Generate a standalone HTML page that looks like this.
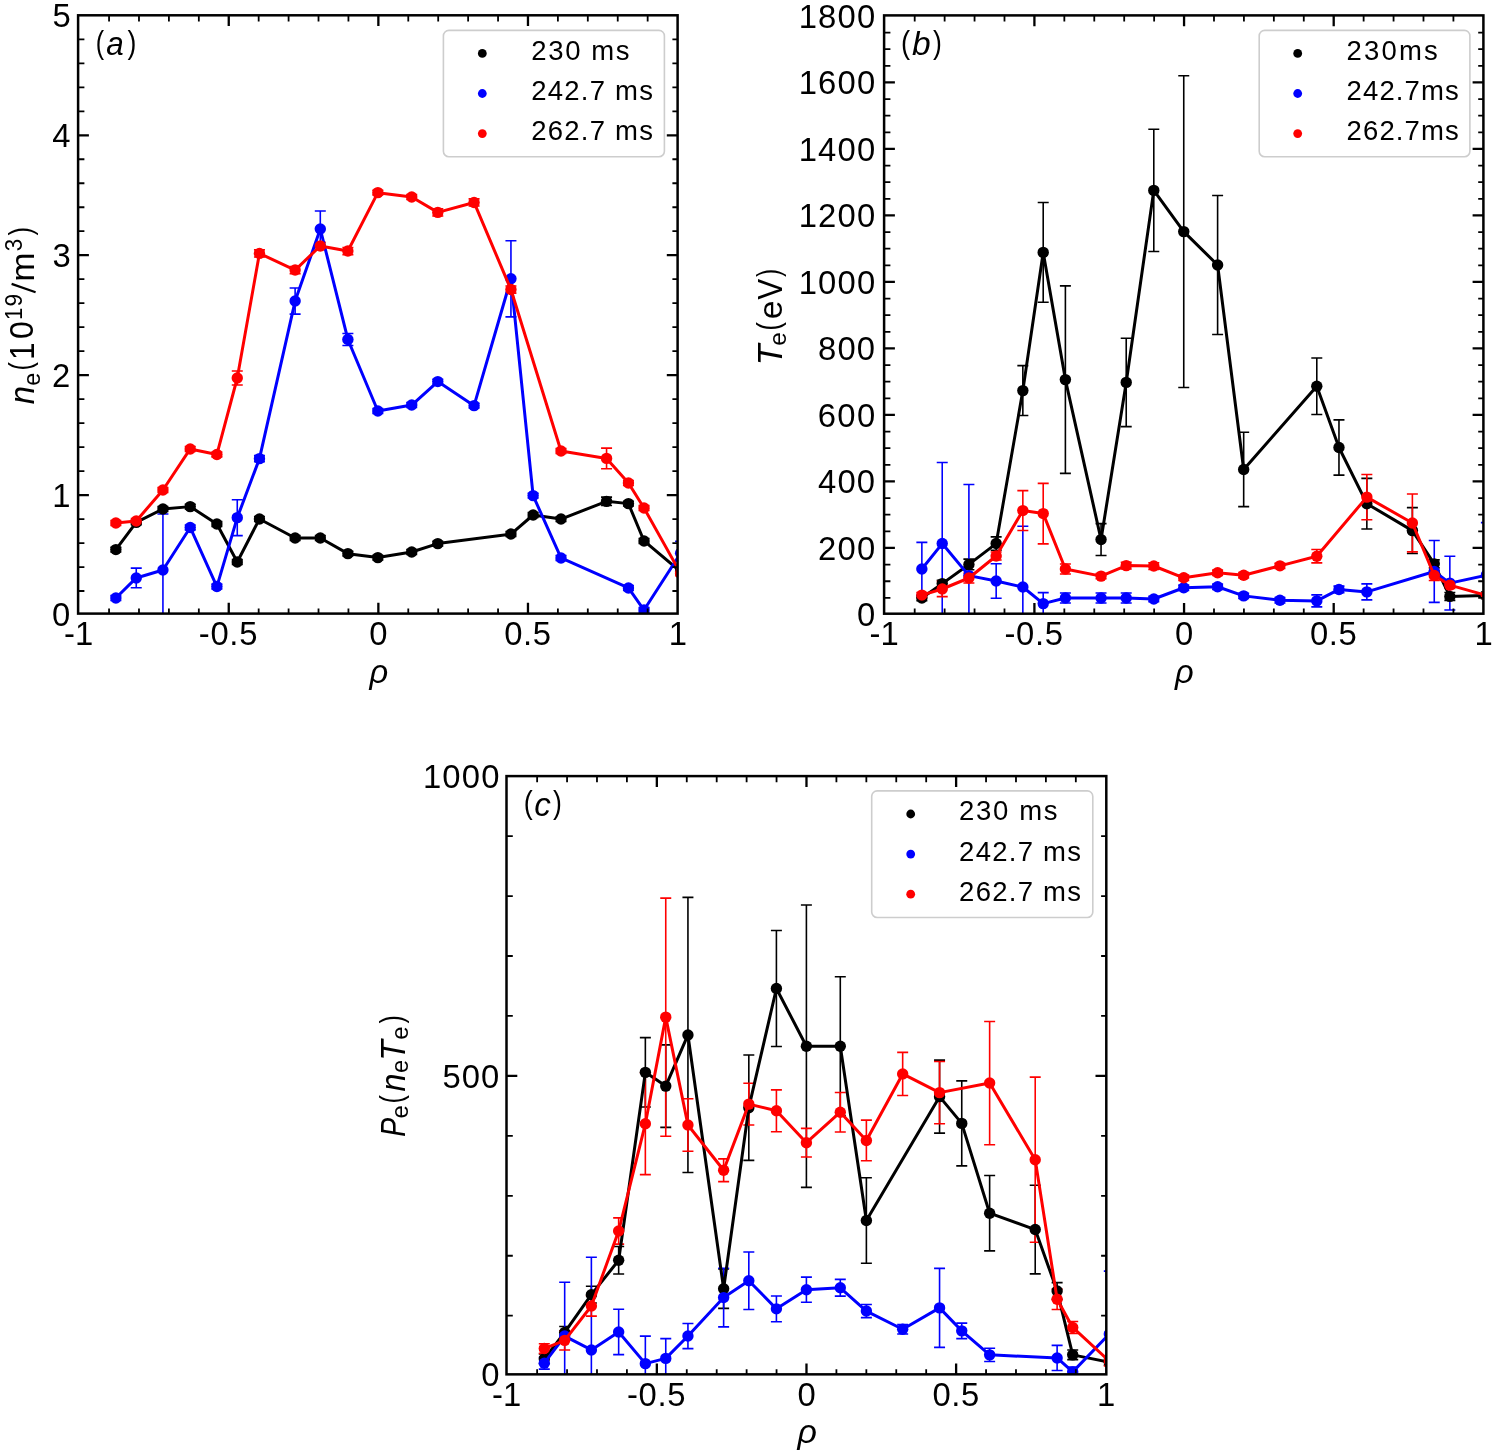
<!DOCTYPE html><html><head><meta charset="utf-8"><style>html,body{margin:0;padding:0;background:#fff;}svg{display:block;will-change:transform;}text{font-family:"Liberation Sans", sans-serif;}</style></head><body>
<svg width="1495" height="1456" viewBox="0 0 1495 1456">
<rect width="1495" height="1456" fill="#fff"/>
<clipPath id="clipa"><rect x="78.1" y="15.3" width="599.5" height="598.3"/></clipPath>
<g clip-path="url(#clipa)">
<path d="M115.87 551.98V547.19M136.25 524.81V520.03M162.93 511.41V506.62M190.21 509.02V504.23M216.88 526.37V521.58M237.27 564.42V559.63M259.45 521.34V516.56M295.12 540.37V535.58M320.3 540.37V535.58M347.88 556.04V551.26M377.85 559.99V555.21M411.72 554.37V549.58M437.8 545.99V541.21M510.94 536.42V531.63M533.12 517.39V512.61M561 521.46V516.68M606.56 505.55V497.17M628.44 506.03V501.24M644.03 543.36V538.57M680.6 574.11V569.33" stroke="#000000" stroke-width="1.6" fill="none"/>
<path d="M110.37 551.98H121.37M110.37 547.19H121.37M130.75 524.81H141.75M130.75 520.03H141.75M157.43 511.41H168.43M157.43 506.62H168.43M184.71 509.02H195.71M184.71 504.23H195.71M211.38 526.37H222.38M211.38 521.58H222.38M231.77 564.42H242.77M231.77 559.63H242.77M253.95 521.34H264.95M253.95 516.56H264.95M289.62 540.37H300.62M289.62 535.58H300.62M314.8 540.37H325.8M314.8 535.58H325.8M342.38 556.04H353.38M342.38 551.26H353.38M372.35 559.99H383.35M372.35 555.21H383.35M406.22 554.37H417.22M406.22 549.58H417.22M432.3 545.99H443.3M432.3 541.21H443.3M505.44 536.42H516.44M505.44 531.63H516.44M527.62 517.39H538.62M527.62 512.61H538.62M555.5 521.46H566.5M555.5 516.68H566.5M601.06 505.55H612.06M601.06 497.17H612.06M622.94 506.03H633.94M622.94 501.24H633.94M638.53 543.36H649.53M638.53 538.57H649.53M675.1 574.11H686.1M675.1 569.33H686.1" stroke="#000000" stroke-width="1.6" fill="none"/>
<path d="M115.87 600.44V595.65M136.25 587.75V568.13M162.93 626.04V514.04M190.21 529.84V525.05M216.88 588.95V584.16M237.27 535.58V499.68M259.45 461.63V455.65M295.12 314.09V288.01M320.3 246.96V211.06M347.88 345.44V333.48M377.85 413.41V408.62M411.72 407.43V402.64M437.8 383.97V379.19M474.07 408.02V403.24M510.94 316.84V240.74M533.12 498.01V493.22M561 560.35V555.56M628.44 590.39V585.6M644.03 612.4V607.62M680.6 565.14V541.21" stroke="#0000ff" stroke-width="1.6" fill="none"/>
<path d="M110.37 600.44H121.37M110.37 595.65H121.37M130.75 587.75H141.75M130.75 568.13H141.75M157.43 626.04H168.43M157.43 514.04H168.43M184.71 529.84H195.71M184.71 525.05H195.71M211.38 588.95H222.38M211.38 584.16H222.38M231.77 535.58H242.77M231.77 499.68H242.77M253.95 461.63H264.95M253.95 455.65H264.95M289.62 314.09H300.62M289.62 288.01H300.62M314.8 246.96H325.8M314.8 211.06H325.8M342.38 345.44H353.38M342.38 333.48H353.38M372.35 413.41H383.35M372.35 408.62H383.35M406.22 407.43H417.22M406.22 402.64H417.22M432.3 383.97H443.3M432.3 379.19H443.3M468.57 408.02H479.57M468.57 403.24H479.57M505.44 316.84H516.44M505.44 240.74H516.44M527.62 498.01H538.62M527.62 493.22H538.62M555.5 560.35H566.5M555.5 555.56H566.5M622.94 590.39H633.94M622.94 585.6H633.94M638.53 612.4H649.53M638.53 607.62H649.53M675.1 565.14H686.1M675.1 541.21H686.1" stroke="#0000ff" stroke-width="1.6" fill="none"/>
<path d="M115.87 525.41V520.62M136.25 523.38V518.59M162.93 492.38V487.6M190.21 451.34V446.55M216.88 456.85V452.06M237.27 384.93V371.05M259.45 257.01V249.83M295.12 273.65V266.47M320.3 249.59V242.41M347.88 254.62V247.44M377.85 195.03V190.24M411.72 199.46V194.67M437.8 215.97V208.79M474.07 206.04V198.86M510.94 293.15V285.97M561 453.38V448.59M606.56 468.69V448.11M628.44 485.44V480.66M644.03 510.45V505.67M680.6 575.79V571" stroke="#ff0000" stroke-width="1.6" fill="none"/>
<path d="M110.37 525.41H121.37M110.37 520.62H121.37M130.75 523.38H141.75M130.75 518.59H141.75M157.43 492.38H168.43M157.43 487.6H168.43M184.71 451.34H195.71M184.71 446.55H195.71M211.38 456.85H222.38M211.38 452.06H222.38M231.77 384.93H242.77M231.77 371.05H242.77M253.95 257.01H264.95M253.95 249.83H264.95M289.62 273.65H300.62M289.62 266.47H300.62M314.8 249.59H325.8M314.8 242.41H325.8M342.38 254.62H353.38M342.38 247.44H353.38M372.35 195.03H383.35M372.35 190.24H383.35M406.22 199.46H417.22M406.22 194.67H417.22M432.3 215.97H443.3M432.3 208.79H443.3M468.57 206.04H479.57M468.57 198.86H479.57M505.44 293.15H516.44M505.44 285.97H516.44M555.5 453.38H566.5M555.5 448.59H566.5M601.06 468.69H612.06M601.06 448.11H612.06M622.94 485.44H633.94M622.94 480.66H633.94M638.53 510.45H649.53M638.53 505.67H649.53M675.1 575.79H686.1M675.1 571H686.1" stroke="#ff0000" stroke-width="1.6" fill="none"/>
<polyline points="115.87,549.58 136.25,522.42 162.93,509.02 190.21,506.62 216.88,523.97 237.27,562.03 259.45,518.95 295.12,537.97 320.3,537.97 347.88,553.65 377.85,557.6 411.72,551.98 437.8,543.6 510.94,534.03 533.12,515 561,519.07 606.56,501.36 628.44,503.63 644.03,540.97 680.6,571.72" stroke="#000000" stroke-width="3.0" fill="none" stroke-linejoin="round" stroke-linecap="round"/>
<g fill="#000000"><circle cx="115.87" cy="549.58" r="5.7"/><circle cx="136.25" cy="522.42" r="5.7"/><circle cx="162.93" cy="509.02" r="5.7"/><circle cx="190.21" cy="506.62" r="5.7"/><circle cx="216.88" cy="523.97" r="5.7"/><circle cx="237.27" cy="562.03" r="5.7"/><circle cx="259.45" cy="518.95" r="5.7"/><circle cx="295.12" cy="537.97" r="5.7"/><circle cx="320.3" cy="537.97" r="5.7"/><circle cx="347.88" cy="553.65" r="5.7"/><circle cx="377.85" cy="557.6" r="5.7"/><circle cx="411.72" cy="551.98" r="5.7"/><circle cx="437.8" cy="543.6" r="5.7"/><circle cx="510.94" cy="534.03" r="5.7"/><circle cx="533.12" cy="515" r="5.7"/><circle cx="561" cy="519.07" r="5.7"/><circle cx="606.56" cy="501.36" r="5.7"/><circle cx="628.44" cy="503.63" r="5.7"/><circle cx="644.03" cy="540.97" r="5.7"/><circle cx="680.6" cy="571.72" r="5.7"/></g>
<polyline points="115.87,598.04 136.25,577.94 162.93,570.04 190.21,527.44 216.88,586.56 237.27,517.63 259.45,458.64 295.12,301.05 320.3,229.01 347.88,339.46 377.85,411.02 411.72,405.03 437.8,381.58 474.07,405.63 510.94,278.79 533.12,495.62 561,557.96 628.44,587.99 644.03,610.01 680.6,553.17" stroke="#0000ff" stroke-width="3.0" fill="none" stroke-linejoin="round" stroke-linecap="round"/>
<g fill="#0000ff"><circle cx="115.87" cy="598.04" r="5.7"/><circle cx="136.25" cy="577.94" r="5.7"/><circle cx="162.93" cy="570.04" r="5.7"/><circle cx="190.21" cy="527.44" r="5.7"/><circle cx="216.88" cy="586.56" r="5.7"/><circle cx="237.27" cy="517.63" r="5.7"/><circle cx="259.45" cy="458.64" r="5.7"/><circle cx="295.12" cy="301.05" r="5.7"/><circle cx="320.3" cy="229.01" r="5.7"/><circle cx="347.88" cy="339.46" r="5.7"/><circle cx="377.85" cy="411.02" r="5.7"/><circle cx="411.72" cy="405.03" r="5.7"/><circle cx="437.8" cy="381.58" r="5.7"/><circle cx="474.07" cy="405.63" r="5.7"/><circle cx="510.94" cy="278.79" r="5.7"/><circle cx="533.12" cy="495.62" r="5.7"/><circle cx="561" cy="557.96" r="5.7"/><circle cx="628.44" cy="587.99" r="5.7"/><circle cx="644.03" cy="610.01" r="5.7"/><circle cx="680.6" cy="553.17" r="5.7"/></g>
<polyline points="115.87,523.02 136.25,520.98 162.93,489.99 190.21,448.95 216.88,454.45 237.27,377.99 259.45,253.42 295.12,270.06 320.3,246 347.88,251.03 377.85,192.64 411.72,197.06 437.8,212.38 474.07,202.45 510.94,289.56 561,450.98 606.56,458.4 628.44,483.05 644.03,508.06 680.6,573.39" stroke="#ff0000" stroke-width="3.0" fill="none" stroke-linejoin="round" stroke-linecap="round"/>
<g fill="#ff0000"><circle cx="115.87" cy="523.02" r="5.7"/><circle cx="136.25" cy="520.98" r="5.7"/><circle cx="162.93" cy="489.99" r="5.7"/><circle cx="190.21" cy="448.95" r="5.7"/><circle cx="216.88" cy="454.45" r="5.7"/><circle cx="237.27" cy="377.99" r="5.7"/><circle cx="259.45" cy="253.42" r="5.7"/><circle cx="295.12" cy="270.06" r="5.7"/><circle cx="320.3" cy="246" r="5.7"/><circle cx="347.88" cy="251.03" r="5.7"/><circle cx="377.85" cy="192.64" r="5.7"/><circle cx="411.72" cy="197.06" r="5.7"/><circle cx="437.8" cy="212.38" r="5.7"/><circle cx="474.07" cy="202.45" r="5.7"/><circle cx="510.94" cy="289.56" r="5.7"/><circle cx="561" cy="450.98" r="5.7"/><circle cx="606.56" cy="458.4" r="5.7"/><circle cx="628.44" cy="483.05" r="5.7"/><circle cx="644.03" cy="508.06" r="5.7"/><circle cx="680.6" cy="573.39" r="5.7"/></g>
</g>
<path d="M228.75 613.6V602.8 M228.75 15.3V26.1M378.36 613.6V602.8 M378.36 15.3V26.1M527.97 613.6V602.8 M527.97 15.3V26.1M78.1 495.07H88.9 M677.6 495.07H666.8M78.1 375.14H88.9 M677.6 375.14H666.8M78.1 255.21H88.9 M677.6 255.21H666.8M78.1 135.28H88.9 M677.6 135.28H666.8" stroke="#000" stroke-width="2.3" fill="none"/>
<path d="M109.06 613.6V608.4 M109.06 15.3V21.5M138.98 613.6V608.4 M138.98 15.3V21.5M168.91 613.6V608.4 M168.91 15.3V21.5M198.83 613.6V608.4 M198.83 15.3V21.5M258.67 613.6V608.4 M258.67 15.3V21.5M288.59 613.6V608.4 M288.59 15.3V21.5M318.52 613.6V608.4 M318.52 15.3V21.5M348.44 613.6V608.4 M348.44 15.3V21.5M408.28 613.6V608.4 M408.28 15.3V21.5M438.2 613.6V608.4 M438.2 15.3V21.5M468.13 613.6V608.4 M468.13 15.3V21.5M498.05 613.6V608.4 M498.05 15.3V21.5M557.89 613.6V608.4 M557.89 15.3V21.5M587.81 613.6V608.4 M587.81 15.3V21.5M617.74 613.6V608.4 M617.74 15.3V21.5M647.66 613.6V608.4 M647.66 15.3V21.5M78.1 591.01H84.4 M677.6 591.01H672.4M78.1 567.03H84.4 M677.6 567.03H672.4M78.1 543.04H84.4 M677.6 543.04H672.4M78.1 519.06H84.4 M677.6 519.06H672.4M78.1 471.08H84.4 M677.6 471.08H672.4M78.1 447.1H84.4 M677.6 447.1H672.4M78.1 423.11H84.4 M677.6 423.11H672.4M78.1 399.13H84.4 M677.6 399.13H672.4M78.1 351.15H84.4 M677.6 351.15H672.4M78.1 327.17H84.4 M677.6 327.17H672.4M78.1 303.18H84.4 M677.6 303.18H672.4M78.1 279.2H84.4 M677.6 279.2H672.4M78.1 231.22H84.4 M677.6 231.22H672.4M78.1 207.24H84.4 M677.6 207.24H672.4M78.1 183.25H84.4 M677.6 183.25H672.4M78.1 159.27H84.4 M677.6 159.27H672.4M78.1 111.29H84.4 M677.6 111.29H672.4M78.1 87.31H84.4 M677.6 87.31H672.4M78.1 63.32H84.4 M677.6 63.32H672.4M78.1 39.34H84.4 M677.6 39.34H672.4" stroke="#000" stroke-width="1.8" fill="none"/>
<rect x="78.1" y="15.3" width="599.5" height="598.3" fill="none" stroke="#000" stroke-width="2.5" stroke-linejoin="miter"/>
<text x="52.05" y="625.6" font-size="32.8" letter-spacing="0" fill="#000">0</text>
<text x="52.28" y="507.07" font-size="32.8" letter-spacing="0" fill="#000">1</text>
<text x="51.95" y="387.14" font-size="32.8" letter-spacing="0" fill="#000">2</text>
<text x="52.44" y="267.21" font-size="32.8" letter-spacing="0" fill="#000">3</text>
<text x="52.16" y="147.28" font-size="32.8" letter-spacing="0" fill="#000">4</text>
<text x="52.43" y="27.35" font-size="32.8" letter-spacing="0" fill="#000">5</text>
<text x="63.89" y="644.6" font-size="32.8" letter-spacing="0.17" fill="#000">-1</text>
<text x="198.86" y="644.6" font-size="32.8" letter-spacing="0.67" fill="#000">-0.5</text>
<text x="369.28" y="644.6" font-size="32.8" letter-spacing="0" fill="#000">0</text>
<text x="504.24" y="644.6" font-size="32.8" letter-spacing="0.62" fill="#000">0.5</text>
<text x="668.73" y="644.6" font-size="32.8" letter-spacing="0" fill="#000">1</text>
<clipPath id="clipb"><rect x="884.1" y="15.4" width="599.3" height="598.3"/></clipPath>
<g clip-path="url(#clipb)">
<path d="M921.86 600.74V595.42M942.23 586.94V580.29M968.9 569.72V559.09M996.17 550.21V536.92M1022.84 415.53V365.67M1043.21 302.25V202.53M1065.39 473.33V285.86M1101.05 555.53V523.62M1126.22 426.6V338.18M1153.79 251.56V129.24M1183.75 387.51V75.73M1217.61 334.49V195.55M1243.68 506.67V432.22M1316.79 414.43V357.93M1338.97 475.09V419.92M1366.84 528.94V478.42M1412.38 553.54V507.67M1434.26 567.83V559.85M1449.84 600.4V592.43M1486.4 598.74V592.09" stroke="#000000" stroke-width="1.6" fill="none"/>
<path d="M916.36 600.74H927.36M916.36 595.42H927.36M936.73 586.94H947.73M936.73 580.29H947.73M963.4 569.72H974.4M963.4 559.09H974.4M990.67 550.21H1001.67M990.67 536.92H1001.67M1017.34 415.53H1028.34M1017.34 365.67H1028.34M1037.71 302.25H1048.71M1037.71 202.53H1048.71M1059.89 473.33H1070.89M1059.89 285.86H1070.89M1095.55 555.53H1106.55M1095.55 523.62H1106.55M1120.72 426.6H1131.72M1120.72 338.18H1131.72M1148.29 251.56H1159.29M1148.29 129.24H1159.29M1178.25 387.51H1189.25M1178.25 75.73H1189.25M1212.11 334.49H1223.11M1212.11 195.55H1223.11M1238.18 506.67H1249.18M1238.18 432.22H1249.18M1311.29 414.43H1322.29M1311.29 357.93H1322.29M1333.47 475.09H1344.47M1333.47 419.92H1344.47M1361.34 528.94H1372.34M1361.34 478.42H1372.34M1406.88 553.54H1417.88M1406.88 507.67H1417.88M1428.76 567.83H1439.76M1428.76 559.85H1439.76M1444.34 600.4H1455.34M1444.34 592.43H1455.34M1480.9 598.74H1491.9M1480.9 592.09H1491.9" stroke="#000000" stroke-width="1.6" fill="none"/>
<path d="M921.86 595.58V542.4M942.23 624.67V462.46M968.9 666.68V484.53M996.17 598.28V563.71M1022.84 647.84V526.18M1043.21 614.56V592.63M1065.39 603V593.03M1101.05 603V593.03M1126.22 603V593.03M1153.79 601.67V596.35M1183.75 590.43V585.11M1217.61 589.44V584.12M1243.68 598.54V593.22M1279.94 602.96V597.65M1316.79 606.89V594.92M1338.97 592.76V586.11M1366.84 599.87V583.92M1434.26 602.4V540.57M1449.84 610.04V556.2M1486.4 627.66V522.63" stroke="#0000ff" stroke-width="1.6" fill="none"/>
<path d="M916.36 595.58H927.36M916.36 542.4H927.36M936.73 624.67H947.73M936.73 462.46H947.73M963.4 666.68H974.4M963.4 484.53H974.4M990.67 598.28H1001.67M990.67 563.71H1001.67M1017.34 647.84H1028.34M1017.34 526.18H1028.34M1037.71 614.56H1048.71M1037.71 592.63H1048.71M1059.89 603H1070.89M1059.89 593.03H1070.89M1095.55 603H1106.55M1095.55 593.03H1106.55M1120.72 603H1131.72M1120.72 593.03H1131.72M1148.29 601.67H1159.29M1148.29 596.35H1159.29M1178.25 590.43H1189.25M1178.25 585.11H1189.25M1212.11 589.44H1223.11M1212.11 584.12H1223.11M1238.18 598.54H1249.18M1238.18 593.22H1249.18M1274.44 602.96H1285.44M1274.44 597.65H1285.44M1311.29 606.89H1322.29M1311.29 594.92H1322.29M1333.47 592.76H1344.47M1333.47 586.11H1344.47M1361.34 599.87H1372.34M1361.34 583.92H1372.34M1428.76 602.4H1439.76M1428.76 540.57H1439.76M1444.34 610.04H1455.34M1444.34 556.2H1455.34M1480.9 627.66H1491.9M1480.9 522.63H1491.9" stroke="#0000ff" stroke-width="1.6" fill="none"/>
<path d="M921.86 597.75V592.43M942.23 596.65V581.36M968.9 582.99V573.02M996.17 559.99V552.01M1022.84 530.54V490.65M1043.21 543.83V483.34M1065.39 573.98V564.01M1101.05 578.77V573.45M1126.22 568.93V562.28M1153.79 569.33V562.68M1183.75 580.46V575.14M1217.61 575.48V570.16M1243.68 577.87V572.55M1279.94 568.5V563.18M1316.79 562.84V549.55M1366.84 519.7V474.5M1412.38 551.88V494.04M1434.26 580.46V570.49M1449.84 588.44V581.79M1486.4 598.08V592.76" stroke="#ff0000" stroke-width="1.6" fill="none"/>
<path d="M916.36 597.75H927.36M916.36 592.43H927.36M936.73 596.65H947.73M936.73 581.36H947.73M963.4 582.99H974.4M963.4 573.02H974.4M990.67 559.99H1001.67M990.67 552.01H1001.67M1017.34 530.54H1028.34M1017.34 490.65H1028.34M1037.71 543.83H1048.71M1037.71 483.34H1048.71M1059.89 573.98H1070.89M1059.89 564.01H1070.89M1095.55 578.77H1106.55M1095.55 573.45H1106.55M1120.72 568.93H1131.72M1120.72 562.28H1131.72M1148.29 569.33H1159.29M1148.29 562.68H1159.29M1178.25 580.46H1189.25M1178.25 575.14H1189.25M1212.11 575.48H1223.11M1212.11 570.16H1223.11M1238.18 577.87H1249.18M1238.18 572.55H1249.18M1274.44 568.5H1285.44M1274.44 563.18H1285.44M1311.29 562.84H1322.29M1311.29 549.55H1322.29M1361.34 519.7H1372.34M1361.34 474.5H1372.34M1406.88 551.88H1417.88M1406.88 494.04H1417.88M1428.76 580.46H1439.76M1428.76 570.49H1439.76M1444.34 588.44H1455.34M1444.34 581.79H1455.34M1480.9 598.08H1491.9M1480.9 592.76H1491.9" stroke="#ff0000" stroke-width="1.6" fill="none"/>
<polyline points="921.86,598.08 942.23,583.62 968.9,564.41 996.17,543.57 1022.84,390.6 1043.21,252.39 1065.39,379.6 1101.05,539.58 1126.22,382.39 1153.79,190.4 1183.75,231.62 1217.61,265.02 1243.68,469.44 1316.79,386.18 1338.97,447.51 1366.84,503.68 1412.38,530.6 1434.26,563.84 1449.84,596.42 1486.4,595.42" stroke="#000000" stroke-width="3.0" fill="none" stroke-linejoin="round" stroke-linecap="round"/>
<g fill="#000000"><circle cx="921.86" cy="598.08" r="5.7"/><circle cx="942.23" cy="583.62" r="5.7"/><circle cx="968.9" cy="564.41" r="5.7"/><circle cx="996.17" cy="543.57" r="5.7"/><circle cx="1022.84" cy="390.6" r="5.7"/><circle cx="1043.21" cy="252.39" r="5.7"/><circle cx="1065.39" cy="379.6" r="5.7"/><circle cx="1101.05" cy="539.58" r="5.7"/><circle cx="1126.22" cy="382.39" r="5.7"/><circle cx="1153.79" cy="190.4" r="5.7"/><circle cx="1183.75" cy="231.62" r="5.7"/><circle cx="1217.61" cy="265.02" r="5.7"/><circle cx="1243.68" cy="469.44" r="5.7"/><circle cx="1316.79" cy="386.18" r="5.7"/><circle cx="1338.97" cy="447.51" r="5.7"/><circle cx="1366.84" cy="503.68" r="5.7"/><circle cx="1412.38" cy="530.6" r="5.7"/><circle cx="1434.26" cy="563.84" r="5.7"/><circle cx="1449.84" cy="596.42" r="5.7"/><circle cx="1486.4" cy="595.42" r="5.7"/></g>
<polyline points="921.86,568.99 942.23,543.57 968.9,575.61 996.17,580.99 1022.84,587.01 1043.21,603.6 1065.39,598.01 1101.05,598.01 1126.22,598.01 1153.79,599.01 1183.75,587.77 1217.61,586.78 1243.68,595.88 1279.94,600.3 1316.79,600.9 1338.97,589.44 1366.84,591.9 1434.26,571.49 1449.84,583.12 1486.4,575.14" stroke="#0000ff" stroke-width="3.0" fill="none" stroke-linejoin="round" stroke-linecap="round"/>
<g fill="#0000ff"><circle cx="921.86" cy="568.99" r="5.7"/><circle cx="942.23" cy="543.57" r="5.7"/><circle cx="968.9" cy="575.61" r="5.7"/><circle cx="996.17" cy="580.99" r="5.7"/><circle cx="1022.84" cy="587.01" r="5.7"/><circle cx="1043.21" cy="603.6" r="5.7"/><circle cx="1065.39" cy="598.01" r="5.7"/><circle cx="1101.05" cy="598.01" r="5.7"/><circle cx="1126.22" cy="598.01" r="5.7"/><circle cx="1153.79" cy="599.01" r="5.7"/><circle cx="1183.75" cy="587.77" r="5.7"/><circle cx="1217.61" cy="586.78" r="5.7"/><circle cx="1243.68" cy="595.88" r="5.7"/><circle cx="1279.94" cy="600.3" r="5.7"/><circle cx="1316.79" cy="600.9" r="5.7"/><circle cx="1338.97" cy="589.44" r="5.7"/><circle cx="1366.84" cy="591.9" r="5.7"/><circle cx="1434.26" cy="571.49" r="5.7"/><circle cx="1449.84" cy="583.12" r="5.7"/><circle cx="1486.4" cy="575.14" r="5.7"/></g>
<polyline points="921.86,595.09 942.23,589 968.9,578 996.17,556 1022.84,510.59 1043.21,513.58 1065.39,568.99 1101.05,576.11 1126.22,565.6 1153.79,566 1183.75,577.8 1217.61,572.82 1243.68,575.21 1279.94,565.84 1316.79,556.2 1366.84,497.1 1412.38,522.96 1434.26,575.48 1449.84,585.11 1486.4,595.42" stroke="#ff0000" stroke-width="3.0" fill="none" stroke-linejoin="round" stroke-linecap="round"/>
<g fill="#ff0000"><circle cx="921.86" cy="595.09" r="5.7"/><circle cx="942.23" cy="589" r="5.7"/><circle cx="968.9" cy="578" r="5.7"/><circle cx="996.17" cy="556" r="5.7"/><circle cx="1022.84" cy="510.59" r="5.7"/><circle cx="1043.21" cy="513.58" r="5.7"/><circle cx="1065.39" cy="568.99" r="5.7"/><circle cx="1101.05" cy="576.11" r="5.7"/><circle cx="1126.22" cy="565.6" r="5.7"/><circle cx="1153.79" cy="566" r="5.7"/><circle cx="1183.75" cy="577.8" r="5.7"/><circle cx="1217.61" cy="572.82" r="5.7"/><circle cx="1243.68" cy="575.21" r="5.7"/><circle cx="1279.94" cy="565.84" r="5.7"/><circle cx="1316.79" cy="556.2" r="5.7"/><circle cx="1366.84" cy="497.1" r="5.7"/><circle cx="1412.38" cy="522.96" r="5.7"/><circle cx="1434.26" cy="575.48" r="5.7"/><circle cx="1449.84" cy="585.11" r="5.7"/><circle cx="1486.4" cy="595.42" r="5.7"/></g>
</g>
<path d="M1034.41 613.7V602.9 M1034.41 15.4V26.2M1184.06 613.7V602.9 M1184.06 15.4V26.2M1333.7 613.7V602.9 M1333.7 15.4V26.2M884.1 547.97H894.9 M1483.4 547.97H1472.6M884.1 481.46H894.9 M1483.4 481.46H1472.6M884.1 414.96H894.9 M1483.4 414.96H1472.6M884.1 348.45H894.9 M1483.4 348.45H1472.6M884.1 281.94H894.9 M1483.4 281.94H1472.6M884.1 215.43H894.9 M1483.4 215.43H1472.6M884.1 148.92H894.9 M1483.4 148.92H1472.6M884.1 82.42H894.9 M1483.4 82.42H1472.6" stroke="#000" stroke-width="2.3" fill="none"/>
<path d="M914.7 613.7V608.5 M914.7 15.4V21.6M944.63 613.7V608.5 M944.63 15.4V21.6M974.56 613.7V608.5 M974.56 15.4V21.6M1004.49 613.7V608.5 M1004.49 15.4V21.6M1064.34 613.7V608.5 M1064.34 15.4V21.6M1094.27 613.7V608.5 M1094.27 15.4V21.6M1124.2 613.7V608.5 M1124.2 15.4V21.6M1154.13 613.7V608.5 M1154.13 15.4V21.6M1213.99 613.7V608.5 M1213.99 15.4V21.6M1243.92 613.7V608.5 M1243.92 15.4V21.6M1273.85 613.7V608.5 M1273.85 15.4V21.6M1303.78 613.7V608.5 M1303.78 15.4V21.6M1363.63 613.7V608.5 M1363.63 15.4V21.6M1393.56 613.7V608.5 M1393.56 15.4V21.6M1423.49 613.7V608.5 M1423.49 15.4V21.6M1453.42 613.7V608.5 M1453.42 15.4V21.6M884.1 597.85H890.4 M1483.4 597.85H1478.2M884.1 581.23H890.4 M1483.4 581.23H1478.2M884.1 564.6H890.4 M1483.4 564.6H1478.2M884.1 531.35H890.4 M1483.4 531.35H1478.2M884.1 514.72H890.4 M1483.4 514.72H1478.2M884.1 498.09H890.4 M1483.4 498.09H1478.2M884.1 464.84H890.4 M1483.4 464.84H1478.2M884.1 448.21H890.4 M1483.4 448.21H1478.2M884.1 431.58H890.4 M1483.4 431.58H1478.2M884.1 398.33H890.4 M1483.4 398.33H1478.2M884.1 381.7H890.4 M1483.4 381.7H1478.2M884.1 365.08H890.4 M1483.4 365.08H1478.2M884.1 331.82H890.4 M1483.4 331.82H1478.2M884.1 315.19H890.4 M1483.4 315.19H1478.2M884.1 298.57H890.4 M1483.4 298.57H1478.2M884.1 265.31H890.4 M1483.4 265.31H1478.2M884.1 248.69H890.4 M1483.4 248.69H1478.2M884.1 232.06H890.4 M1483.4 232.06H1478.2M884.1 198.81H890.4 M1483.4 198.81H1478.2M884.1 182.18H890.4 M1483.4 182.18H1478.2M884.1 165.55H890.4 M1483.4 165.55H1478.2M884.1 132.3H890.4 M1483.4 132.3H1478.2M884.1 115.67H890.4 M1483.4 115.67H1478.2M884.1 99.04H890.4 M1483.4 99.04H1478.2M884.1 65.79H890.4 M1483.4 65.79H1478.2M884.1 49.16H890.4 M1483.4 49.16H1478.2M884.1 32.54H890.4 M1483.4 32.54H1478.2" stroke="#000" stroke-width="1.8" fill="none"/>
<rect x="884.1" y="15.4" width="599.3" height="598.3" fill="none" stroke="#000" stroke-width="2.5" stroke-linejoin="miter"/>
<text x="857.05" y="625.7" font-size="32.8" letter-spacing="0" fill="#000">0</text>
<text x="817.89" y="559.97" font-size="32.8" letter-spacing="1.26" fill="#000">200</text>
<text x="818.1" y="493.46" font-size="32.8" letter-spacing="1.15" fill="#000">400</text>
<text x="817.81" y="426.96" font-size="32.8" letter-spacing="1.3" fill="#000">600</text>
<text x="817.98" y="360.45" font-size="32.8" letter-spacing="1.21" fill="#000">800</text>
<text x="798.69" y="293.94" font-size="32.8" letter-spacing="1.18" fill="#000">1000</text>
<text x="798.69" y="227.43" font-size="32.8" letter-spacing="1.18" fill="#000">1200</text>
<text x="798.69" y="160.92" font-size="32.8" letter-spacing="1.18" fill="#000">1400</text>
<text x="798.69" y="94.42" font-size="32.8" letter-spacing="1.18" fill="#000">1600</text>
<text x="798.69" y="27.91" font-size="32.8" letter-spacing="1.18" fill="#000">1800</text>
<text x="869.52" y="644.7" font-size="32.8" letter-spacing="0.17" fill="#000">-1</text>
<text x="1004.52" y="644.7" font-size="32.8" letter-spacing="0.67" fill="#000">-0.5</text>
<text x="1174.98" y="644.7" font-size="32.8" letter-spacing="0" fill="#000">0</text>
<text x="1309.98" y="644.7" font-size="32.8" letter-spacing="0.62" fill="#000">0.5</text>
<text x="1474.5" y="644.7" font-size="32.8" letter-spacing="0" fill="#000">1</text>
<clipPath id="clipc"><rect x="506.5" y="776.1" width="599.8" height="598.25"/></clipPath>
<g clip-path="url(#clipc)">
<path d="M544.29 1363.64V1354.07M564.68 1338.45V1326.49M591.37 1303.04V1286.29M618.66 1274.02V1246.5M645.35 1107.05V1037.65M665.75 1127.39V1044.83M687.94 1172.56V897.37M723.63 1308.42V1268.94M748.82 1160.36V1055.06M776.41 1046.51V930.45M806.4 1187.4V905.02M840.29 1115.61V976.81M866.38 1263.25V1177.71M939.56 1133.14V1060.15M961.75 1165.86V1080.91M989.64 1250.87V1175.49M1035.22 1273.84V1185.3M1057.12 1299.33V1282.58M1072.71 1359.63V1350.06M1109.3 1365.14V1359.15" stroke="#000000" stroke-width="1.6" fill="none"/>
<path d="M538.79 1363.64H549.79M538.79 1354.07H549.79M559.18 1338.45H570.18M559.18 1326.49H570.18M585.87 1303.04H596.87M585.87 1286.29H596.87M613.16 1274.02H624.16M613.16 1246.5H624.16M639.85 1107.05H650.85M639.85 1037.65H650.85M660.25 1127.39H671.25M660.25 1044.83H671.25M682.44 1172.56H693.44M682.44 897.37H693.44M718.13 1308.42H729.13M718.13 1268.94H729.13M743.32 1160.36H754.32M743.32 1055.06H754.32M770.91 1046.51H781.91M770.91 930.45H781.91M800.9 1187.4H811.9M800.9 905.02H811.9M834.79 1115.61H845.79M834.79 976.81H845.79M860.88 1263.25H871.88M860.88 1177.71H871.88M934.06 1133.14H945.06M934.06 1060.15H945.06M956.25 1165.86H967.25M956.25 1080.91H967.25M984.14 1250.87H995.14M984.14 1175.49H995.14M1029.72 1273.84H1040.72M1029.72 1185.3H1040.72M1051.62 1299.33H1062.62M1051.62 1282.58H1062.62M1067.21 1359.63H1078.21M1067.21 1350.06H1078.21M1103.8 1365.14H1114.8M1103.8 1359.15H1114.8" stroke="#000000" stroke-width="1.6" fill="none"/>
<path d="M544.29 1369.15V1357.18M564.68 1389.9V1282.22M591.37 1442.67V1257.21M618.66 1354.67V1309.2M645.35 1391.16V1336.12M665.75 1378.12V1338.63M687.94 1348.63V1323.5M723.63 1326.91V1268.28M748.82 1309.5V1252.07M776.41 1321.7V1295.98M806.4 1302.26V1277.13M840.29 1296.16V1279.41M866.38 1317.64V1304.47M902.67 1334.03V1324.46M939.56 1347.37V1268.4M961.75 1338.63V1323.08M989.64 1361.43V1348.27M1057.12 1370.52V1345.39M1072.71 1376.62V1367.05M1109.3 1396.78V1271.15" stroke="#0000ff" stroke-width="1.6" fill="none"/>
<path d="M538.79 1369.15H549.79M538.79 1357.18H549.79M559.18 1389.9H570.18M559.18 1282.22H570.18M585.87 1442.67H596.87M585.87 1257.21H596.87M613.16 1354.67H624.16M613.16 1309.2H624.16M639.85 1391.16H650.85M639.85 1336.12H650.85M660.25 1378.12H671.25M660.25 1338.63H671.25M682.44 1348.63H693.44M682.44 1323.5H693.44M718.13 1326.91H729.13M718.13 1268.28H729.13M743.32 1309.5H754.32M743.32 1252.07H754.32M770.91 1321.7H781.91M770.91 1295.98H781.91M800.9 1302.26H811.9M800.9 1277.13H811.9M834.79 1296.16H845.79M834.79 1279.41H845.79M860.88 1317.64H871.88M860.88 1304.47H871.88M897.17 1334.03H908.17M897.17 1324.46H908.17M934.06 1347.37H945.06M934.06 1268.4H945.06M956.25 1338.63H967.25M956.25 1323.08H967.25M984.14 1361.43H995.14M984.14 1348.27H995.14M1051.62 1370.52H1062.62M1051.62 1345.39H1062.62M1067.21 1376.62H1078.21M1067.21 1367.05H1078.21M1103.8 1396.78H1114.8M1103.8 1271.15H1114.8" stroke="#0000ff" stroke-width="1.6" fill="none"/>
<path d="M544.29 1353.35V1343.78M564.68 1349.94V1330.8M591.37 1316.14V1295.8M618.66 1244.17V1217.85M645.35 1174.65V1072.95M665.75 1136.19V898.08M687.94 1151.32V1098.68M723.63 1181.59V1158.86M748.82 1125.06V1083.18M776.41 1131.76V1089.88M806.4 1157.07V1128.35M840.29 1131.94V1092.45M866.38 1160.77V1120.09M902.67 1095.45V1052.37M939.56 1123.74V1061.53M989.64 1144.68V1021.44M1035.22 1242.26V1077.14M1057.12 1309.44V1289.1M1072.71 1333.43V1321.46M1109.3 1365.85V1356.28" stroke="#ff0000" stroke-width="1.6" fill="none"/>
<path d="M538.79 1353.35H549.79M538.79 1343.78H549.79M559.18 1349.94H570.18M559.18 1330.8H570.18M585.87 1316.14H596.87M585.87 1295.8H596.87M613.16 1244.17H624.16M613.16 1217.85H624.16M639.85 1174.65H650.85M639.85 1072.95H650.85M660.25 1136.19H671.25M660.25 898.08H671.25M682.44 1151.32H693.44M682.44 1098.68H693.44M718.13 1181.59H729.13M718.13 1158.86H729.13M743.32 1125.06H754.32M743.32 1083.18H754.32M770.91 1131.76H781.91M770.91 1089.88H781.91M800.9 1157.07H811.9M800.9 1128.35H811.9M834.79 1131.94H845.79M834.79 1092.45H845.79M860.88 1160.77H871.88M860.88 1120.09H871.88M897.17 1095.45H908.17M897.17 1052.37H908.17M934.06 1123.74H945.06M934.06 1061.53H945.06M984.14 1144.68H995.14M984.14 1021.44H995.14M1029.72 1242.26H1040.72M1029.72 1077.14H1040.72M1051.62 1309.44H1062.62M1051.62 1289.1H1062.62M1067.21 1333.43H1078.21M1067.21 1321.46H1078.21M1103.8 1365.85H1114.8M1103.8 1356.28H1114.8" stroke="#ff0000" stroke-width="1.6" fill="none"/>
<polyline points="544.29,1358.86 564.68,1332.47 591.37,1294.66 618.66,1260.26 645.35,1072.35 665.75,1086.11 687.94,1034.96 723.63,1288.68 748.82,1107.71 776.41,988.48 806.4,1046.21 840.29,1046.21 866.38,1220.48 939.56,1096.64 961.75,1123.38 989.64,1213.18 1035.22,1229.57 1057.12,1290.95 1072.71,1354.85 1109.3,1362.15" stroke="#000000" stroke-width="3.0" fill="none" stroke-linejoin="round" stroke-linecap="round"/>
<g fill="#000000"><circle cx="544.29" cy="1358.86" r="5.7"/><circle cx="564.68" cy="1332.47" r="5.7"/><circle cx="591.37" cy="1294.66" r="5.7"/><circle cx="618.66" cy="1260.26" r="5.7"/><circle cx="645.35" cy="1072.35" r="5.7"/><circle cx="665.75" cy="1086.11" r="5.7"/><circle cx="687.94" cy="1034.96" r="5.7"/><circle cx="723.63" cy="1288.68" r="5.7"/><circle cx="748.82" cy="1107.71" r="5.7"/><circle cx="776.41" cy="988.48" r="5.7"/><circle cx="806.4" cy="1046.21" r="5.7"/><circle cx="840.29" cy="1046.21" r="5.7"/><circle cx="866.38" cy="1220.48" r="5.7"/><circle cx="939.56" cy="1096.64" r="5.7"/><circle cx="961.75" cy="1123.38" r="5.7"/><circle cx="989.64" cy="1213.18" r="5.7"/><circle cx="1035.22" cy="1229.57" r="5.7"/><circle cx="1057.12" cy="1290.95" r="5.7"/><circle cx="1072.71" cy="1354.85" r="5.7"/><circle cx="1109.3" cy="1362.15" r="5.7"/></g>
<polyline points="544.29,1363.16 564.68,1336.06 591.37,1349.94 618.66,1331.93 645.35,1363.64 665.75,1358.38 687.94,1336.06 723.63,1297.59 748.82,1280.78 776.41,1308.84 806.4,1289.7 840.29,1287.78 866.38,1311.06 902.67,1329.24 939.56,1307.88 961.75,1330.86 989.64,1354.85 1057.12,1357.96 1072.71,1371.84 1109.3,1333.97" stroke="#0000ff" stroke-width="3.0" fill="none" stroke-linejoin="round" stroke-linecap="round"/>
<g fill="#0000ff"><circle cx="544.29" cy="1363.16" r="5.7"/><circle cx="564.68" cy="1336.06" r="5.7"/><circle cx="591.37" cy="1349.94" r="5.7"/><circle cx="618.66" cy="1331.93" r="5.7"/><circle cx="645.35" cy="1363.64" r="5.7"/><circle cx="665.75" cy="1358.38" r="5.7"/><circle cx="687.94" cy="1336.06" r="5.7"/><circle cx="723.63" cy="1297.59" r="5.7"/><circle cx="748.82" cy="1280.78" r="5.7"/><circle cx="776.41" cy="1308.84" r="5.7"/><circle cx="806.4" cy="1289.7" r="5.7"/><circle cx="840.29" cy="1287.78" r="5.7"/><circle cx="866.38" cy="1311.06" r="5.7"/><circle cx="902.67" cy="1329.24" r="5.7"/><circle cx="939.56" cy="1307.88" r="5.7"/><circle cx="961.75" cy="1330.86" r="5.7"/><circle cx="989.64" cy="1354.85" r="5.7"/><circle cx="1057.12" cy="1357.96" r="5.7"/><circle cx="1072.71" cy="1371.84" r="5.7"/><circle cx="1109.3" cy="1333.97" r="5.7"/></g>
<polyline points="544.29,1348.57 564.68,1340.37 591.37,1305.97 618.66,1231.01 645.35,1123.8 665.75,1017.13 687.94,1125 723.63,1170.23 748.82,1104.12 776.41,1110.82 806.4,1142.71 840.29,1112.2 866.38,1140.43 902.67,1073.91 939.56,1092.63 989.64,1083.06 1035.22,1159.7 1057.12,1299.27 1072.71,1327.45 1109.3,1361.07" stroke="#ff0000" stroke-width="3.0" fill="none" stroke-linejoin="round" stroke-linecap="round"/>
<g fill="#ff0000"><circle cx="544.29" cy="1348.57" r="5.7"/><circle cx="564.68" cy="1340.37" r="5.7"/><circle cx="591.37" cy="1305.97" r="5.7"/><circle cx="618.66" cy="1231.01" r="5.7"/><circle cx="645.35" cy="1123.8" r="5.7"/><circle cx="665.75" cy="1017.13" r="5.7"/><circle cx="687.94" cy="1125" r="5.7"/><circle cx="723.63" cy="1170.23" r="5.7"/><circle cx="748.82" cy="1104.12" r="5.7"/><circle cx="776.41" cy="1110.82" r="5.7"/><circle cx="806.4" cy="1142.71" r="5.7"/><circle cx="840.29" cy="1112.2" r="5.7"/><circle cx="866.38" cy="1140.43" r="5.7"/><circle cx="902.67" cy="1073.91" r="5.7"/><circle cx="939.56" cy="1092.63" r="5.7"/><circle cx="989.64" cy="1083.06" r="5.7"/><circle cx="1035.22" cy="1159.7" r="5.7"/><circle cx="1057.12" cy="1299.27" r="5.7"/><circle cx="1072.71" cy="1327.45" r="5.7"/><circle cx="1109.3" cy="1361.07" r="5.7"/></g>
</g>
<path d="M656.84 1374.35V1363.55 M656.84 776.1V786.9M806.48 1374.35V1363.55 M806.48 776.1V786.9M956.12 1374.35V1363.55 M956.12 776.1V786.9M506.5 1075.9H517.3 M1106.3 1075.9H1095.5" stroke="#000" stroke-width="2.3" fill="none"/>
<path d="M537.13 1374.35V1369.15 M537.13 776.1V782.3M567.06 1374.35V1369.15 M567.06 776.1V782.3M596.98 1374.35V1369.15 M596.98 776.1V782.3M626.91 1374.35V1369.15 M626.91 776.1V782.3M686.77 1374.35V1369.15 M686.77 776.1V782.3M716.7 1374.35V1369.15 M716.7 776.1V782.3M746.62 1374.35V1369.15 M746.62 776.1V782.3M776.55 1374.35V1369.15 M776.55 776.1V782.3M836.41 1374.35V1369.15 M836.41 776.1V782.3M866.34 1374.35V1369.15 M866.34 776.1V782.3M896.26 1374.35V1369.15 M896.26 776.1V782.3M926.19 1374.35V1369.15 M926.19 776.1V782.3M986.05 1374.35V1369.15 M986.05 776.1V782.3M1015.98 1374.35V1369.15 M1015.98 776.1V782.3M1045.9 1374.35V1369.15 M1045.9 776.1V782.3M1075.83 1374.35V1369.15 M1075.83 776.1V782.3M506.5 1315.7H512.8 M1106.3 1315.7H1101.1M506.5 1255.75H512.8 M1106.3 1255.75H1101.1M506.5 1195.8H512.8 M1106.3 1195.8H1101.1M506.5 1135.85H512.8 M1106.3 1135.85H1101.1M506.5 1015.95H512.8 M1106.3 1015.95H1101.1M506.5 956H512.8 M1106.3 956H1101.1M506.5 896.05H512.8 M1106.3 896.05H1101.1M506.5 836.1H512.8 M1106.3 836.1H1101.1" stroke="#000" stroke-width="1.8" fill="none"/>
<rect x="506.5" y="776.1" width="599.8" height="598.25" fill="none" stroke="#000" stroke-width="2.5" stroke-linejoin="miter"/>
<text x="481.25" y="1386.35" font-size="32.8" letter-spacing="0" fill="#000">0</text>
<text x="442.57" y="1087.9" font-size="32.8" letter-spacing="1.02" fill="#000">500</text>
<text x="422.89" y="788.15" font-size="32.8" letter-spacing="1.18" fill="#000">1000</text>
<text x="491.95" y="1405.75" font-size="32.8" letter-spacing="0.17" fill="#000">-1</text>
<text x="626.95" y="1405.75" font-size="32.8" letter-spacing="0.67" fill="#000">-0.5</text>
<text x="797.4" y="1405.75" font-size="32.8" letter-spacing="0" fill="#000">0</text>
<text x="932.39" y="1405.75" font-size="32.8" letter-spacing="0.62" fill="#000">0.5</text>
<text x="1096.91" y="1405.75" font-size="32.8" letter-spacing="0" fill="#000">1</text>
<rect x="443.4" y="30.4" width="221" height="126.4" rx="5.5" ry="5.5" fill="#fff" fill-opacity="0.8" stroke="#cdcdcd" stroke-width="1.6"/>
<circle cx="482.3" cy="53.4" r="4.4" fill="#000"/>
<text x="531.33" y="59.8" font-size="27.5" letter-spacing="1.61" fill="#000">230 ms</text>
<circle cx="482.3" cy="93.5" r="4.4" fill="#00f"/>
<text x="531.33" y="99.9" font-size="27.5" letter-spacing="1.21" fill="#000">242.7 ms</text>
<circle cx="482.3" cy="133.6" r="4.4" fill="#f00"/>
<text x="531.33" y="140" font-size="27.5" letter-spacing="1.21" fill="#000">262.7 ms</text>
<rect x="1259.2" y="30.4" width="210.7" height="126.4" rx="5.5" ry="5.5" fill="#fff" fill-opacity="0.8" stroke="#cdcdcd" stroke-width="1.6"/>
<circle cx="1297.7" cy="53.4" r="4.4" fill="#000"/>
<text x="1346.62" y="59.8" font-size="27.5" letter-spacing="2.14" fill="#000">230ms</text>
<circle cx="1297.7" cy="93.5" r="4.4" fill="#00f"/>
<text x="1346.62" y="99.9" font-size="27.5" letter-spacing="1.1" fill="#000">242.7ms</text>
<circle cx="1297.7" cy="133.6" r="4.4" fill="#f00"/>
<text x="1346.62" y="140" font-size="27.5" letter-spacing="1.1" fill="#000">262.7ms</text>
<rect x="871.7" y="790.9" width="221.1" height="126.6" rx="5.5" ry="5.5" fill="#fff" fill-opacity="0.8" stroke="#cdcdcd" stroke-width="1.6"/>
<circle cx="910.7" cy="814" r="4.4" fill="#000"/>
<text x="959.12" y="820.4" font-size="27.5" letter-spacing="1.63" fill="#000">230 ms</text>
<circle cx="910.7" cy="854.1" r="4.4" fill="#00f"/>
<text x="959.12" y="860.5" font-size="27.5" letter-spacing="1.25" fill="#000">242.7 ms</text>
<circle cx="910.7" cy="894.2" r="4.4" fill="#f00"/>
<text x="959.12" y="900.6" font-size="27.5" letter-spacing="1.25" fill="#000">262.7 ms</text>
<text x="95.83" y="52.97" font-size="30.99" textLength="8.37" lengthAdjust="spacingAndGlyphs" fill="#000">(</text>
<text x="106.19" y="55.37" font-size="32.51" font-style="italic" textLength="17.46" lengthAdjust="spacingAndGlyphs" fill="#000">a</text>
<text x="127.5" y="52.97" font-size="30.99" textLength="8.88" lengthAdjust="spacingAndGlyphs" fill="#000">)</text>
<text x="900.99" y="53.17" font-size="30.99" textLength="9.13" lengthAdjust="spacingAndGlyphs" fill="#000">(</text>
<text x="912" y="55.36" font-size="33.74" font-style="italic" textLength="18.65" lengthAdjust="spacingAndGlyphs" fill="#000">b</text>
<text x="933.1" y="53.17" font-size="30.99" textLength="8.88" lengthAdjust="spacingAndGlyphs" fill="#000">)</text>
<text x="523.71" y="813.37" font-size="30.99" textLength="9.01" lengthAdjust="spacingAndGlyphs" fill="#000">(</text>
<text x="534.22" y="815.97" font-size="33.24" font-style="italic" textLength="16.59" lengthAdjust="spacingAndGlyphs" fill="#000">c</text>
<text x="552.9" y="813.37" font-size="30.99" textLength="8.88" lengthAdjust="spacingAndGlyphs" fill="#000">)</text>
<text x="369.61" y="682.74" font-size="33.56" font-style="italic" textLength="18.67" lengthAdjust="spacingAndGlyphs" fill="#000">ρ</text>
<text x="1175.01" y="682.98" font-size="33.83" font-style="italic" textLength="18.67" lengthAdjust="spacingAndGlyphs" fill="#000">ρ</text>
<text x="797.55" y="1442.94" font-size="33.56" font-style="italic" textLength="19.38" lengthAdjust="spacingAndGlyphs" fill="#000">ρ</text>
<g transform="translate(34 403.3) rotate(-90)">
<text x="-0.88" y="0.1" font-size="34.23" font-style="italic" textLength="18.29" lengthAdjust="spacingAndGlyphs" fill="#000">n</text>
<text x="17.61" y="5.56" font-size="23.56" textLength="13.02" lengthAdjust="spacingAndGlyphs" fill="#000">e</text>
<text x="32.73" y="-2.74" font-size="30.56" textLength="8.37" lengthAdjust="spacingAndGlyphs" fill="#000">(</text>
<text x="43.22" y="0.1" font-size="34.47" textLength="17.62" lengthAdjust="spacingAndGlyphs" fill="#000">1</text>
<text x="64.32" y="-0.53" font-size="33.07" textLength="17.82" lengthAdjust="spacingAndGlyphs" fill="#000">0</text>
<text x="83.35" y="-12.1" font-size="24.73" textLength="12.22" lengthAdjust="spacingAndGlyphs" fill="#000">1</text>
<text x="96.82" y="-12.34" font-size="24.03" textLength="12.63" lengthAdjust="spacingAndGlyphs" fill="#000">9</text>
<text x="121.53" y="0" font-size="33.67" textLength="29.27" lengthAdjust="spacingAndGlyphs" fill="#000">m</text>
<text x="152.16" y="-12.34" font-size="24.03" textLength="12.41" lengthAdjust="spacingAndGlyphs" fill="#000">3</text>
<text x="167.91" y="-2.68" font-size="31.21" textLength="8.63" lengthAdjust="spacingAndGlyphs" fill="#000">)</text>
<path d="M119.4 -22.4L111 1.6" stroke="#000" stroke-width="2.2" stroke-linecap="butt"/>
</g>
<g transform="translate(781.5 362.2) rotate(-90)">
<text x="-3.04" y="0.4" font-size="34.91" font-style="italic" textLength="20.64" lengthAdjust="spacingAndGlyphs" fill="#000">T</text>
<text x="16.47" y="4.36" font-size="23.93" textLength="13.49" lengthAdjust="spacingAndGlyphs" fill="#000">e</text>
<text x="31.36" y="-2.53" font-size="30.99" textLength="8.75" lengthAdjust="spacingAndGlyphs" fill="#000">(</text>
<text x="42.87" y="0.07" font-size="33.24" textLength="18.7" lengthAdjust="spacingAndGlyphs" fill="#000">e</text>
<text x="62.34" y="0.1" font-size="34.47" textLength="20.9" lengthAdjust="spacingAndGlyphs" fill="#000">V</text>
<text x="85.31" y="-2.53" font-size="30.99" textLength="8.25" lengthAdjust="spacingAndGlyphs" fill="#000">)</text>
</g>
<g transform="translate(404.3 1135.9) rotate(-90)">
<text x="-0.85" y="0.3" font-size="35.05" font-style="italic" textLength="18.95" lengthAdjust="spacingAndGlyphs" fill="#000">P</text>
<text x="17.38" y="4.16" font-size="23.74" textLength="13.37" lengthAdjust="spacingAndGlyphs" fill="#000">e</text>
<text x="32.43" y="-2.78" font-size="31.21" textLength="8.37" lengthAdjust="spacingAndGlyphs" fill="#000">(</text>
<text x="44.34" y="0.3" font-size="34.6" font-style="italic" textLength="17.96" lengthAdjust="spacingAndGlyphs" fill="#000">n</text>
<text x="63" y="4.16" font-size="23.74" textLength="13.14" lengthAdjust="spacingAndGlyphs" fill="#000">e</text>
<text x="75.07" y="0.3" font-size="34.62" font-style="italic" textLength="20.54" lengthAdjust="spacingAndGlyphs" fill="#000">T</text>
<text x="96.08" y="4.16" font-size="23.74" textLength="13.37" lengthAdjust="spacingAndGlyphs" fill="#000">e</text>
<text x="112.31" y="-2.55" font-size="31.1" textLength="8.37" lengthAdjust="spacingAndGlyphs" fill="#000">)</text>
</g>
</svg></body></html>
